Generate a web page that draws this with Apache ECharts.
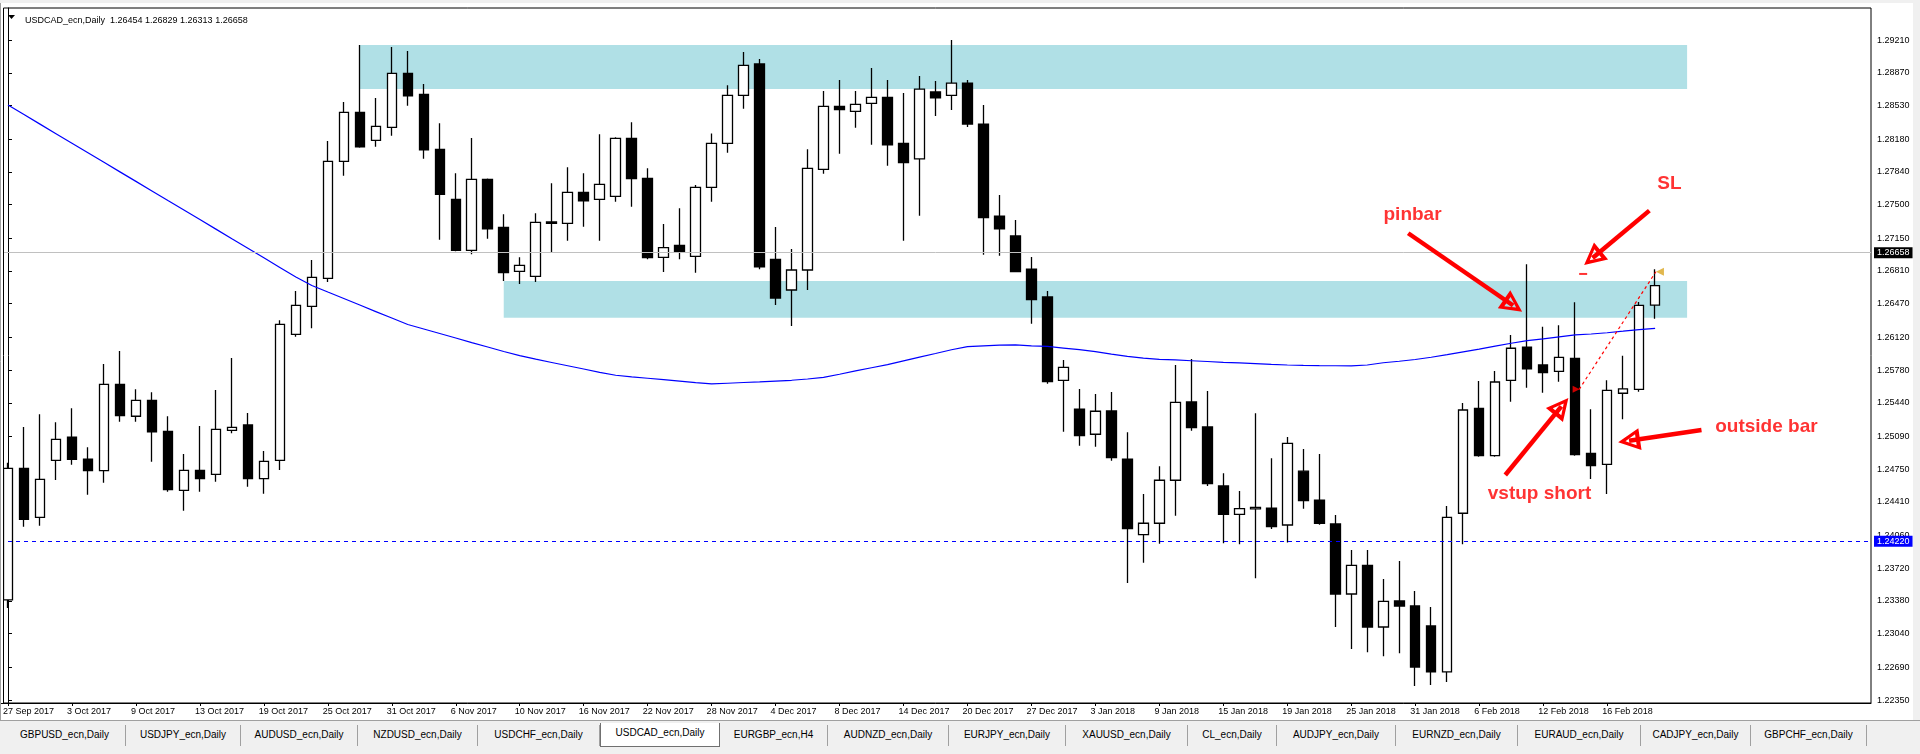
<!DOCTYPE html>
<html>
<head>
<meta charset="utf-8">
<script src="https://cdn.jsdelivr.net/npm/echarts@6/dist/echarts.min.js"></script>
<style>
html,body{margin:0;padding:0;width:1920px;height:754px;overflow:hidden;background:#f0f0f0;font-family:"Liberation Sans",Arial,sans-serif}
#chart{position:absolute;left:0;top:3px;width:1913px;height:717px;background:#fff}
#tabs{position:absolute;left:0;top:720px;width:1920px;height:34px;background:#f0f0f0;border-top:1px solid #a0a0a0}
.tab{position:absolute;top:4px;height:21px;line-height:20px;font-size:10px;color:#000;text-align:center;border-right:1px solid #a0a0a0;font-family:"Liberation Sans",Arial,sans-serif;box-sizing:border-box}
.tab.active{background:#fff;border:1px solid #707070;border-top:none;top:2px;height:24px}
</style>
</head>
<body>
<div id="chart"></div>
<div id="tabs"></div>
<script>
// ---------- data ----------
const dates = [
'2017.09.27','2017.09.28','2017.09.29',
'2017.10.02','2017.10.03','2017.10.04','2017.10.05','2017.10.06','2017.10.09','2017.10.10','2017.10.11','2017.10.12','2017.10.13',
'2017.10.16','2017.10.17','2017.10.18','2017.10.19','2017.10.20','2017.10.23','2017.10.24','2017.10.25','2017.10.26','2017.10.27','2017.10.30','2017.10.31',
'2017.11.01','2017.11.02','2017.11.03','2017.11.06','2017.11.07','2017.11.08','2017.11.09','2017.11.10','2017.11.13','2017.11.14','2017.11.15','2017.11.16','2017.11.17',
'2017.11.20','2017.11.21','2017.11.22','2017.11.23','2017.11.24','2017.11.27','2017.11.28','2017.11.29','2017.11.30',
'2017.12.01','2017.12.04','2017.12.05','2017.12.06','2017.12.07','2017.12.08','2017.12.11','2017.12.12','2017.12.13','2017.12.14','2017.12.15',
'2017.12.18','2017.12.19','2017.12.20','2017.12.21','2017.12.22','2017.12.26','2017.12.27','2017.12.28','2017.12.29',
'2018.01.02','2018.01.03','2018.01.04','2018.01.05','2018.01.08','2018.01.09','2018.01.10','2018.01.11','2018.01.12','2018.01.15','2018.01.16','2018.01.17','2018.01.18','2018.01.19',
'2018.01.22','2018.01.23','2018.01.24','2018.01.25','2018.01.26','2018.01.29','2018.01.30','2018.01.31',
'2018.02.01','2018.02.02','2018.02.05','2018.02.06','2018.02.07','2018.02.08','2018.02.09','2018.02.12','2018.02.13','2018.02.14','2018.02.15','2018.02.16',
'2018.02.19','2018.02.20','2018.02.21'
];
const futureDates = ['2018.02.22','2018.02.23','2018.02.26','2018.02.27','2018.02.28','2018.03.01','2018.03.02','2018.03.05','2018.03.06','2018.03.07','2018.03.08','2018.03.09','2018.03.12'];

const open = [1.23391,1.24759,1.24250,1.24842,1.25084,1.24853,1.24734,1.25632,1.25300,1.25466,1.25143,1.24530,1.24738,1.24697,1.25154,1.25209,1.24651,1.24842,1.26152,1.26443,
1.26734,1.27949,1.28459,1.28168,1.28303,1.28864,1.28646,1.28074,1.27555,1.27025,1.27762,1.27264,1.26806,1.26754,1.27319,1.27305,1.27627,1.27555,1.27586,1.28188,
1.27773,1.26952,1.27077,1.26962,1.27679,1.28137,1.28635,1.28961,1.26931,1.26612,1.26820,1.27866,1.28521,1.28469,1.28552,1.28615,1.28137,1.27974,1.28670,1.28634,
1.28763,1.28337,1.27381,1.27174,1.26830,1.26540,1.25674,1.25373,1.25113,1.25355,1.24853,1.24070,1.24188,1.24635,1.25448,1.25189,1.24575,1.24281,1.24337,1.24344,
1.24170,1.24729,1.24427,1.24181,1.23453,1.23751,1.23110,1.23380,1.23328,1.23120,1.22643,1.24292,1.25383,1.24890,1.25674,1.26017,1.25833,1.25767,1.25902,1.24915,
1.24800,1.25539,1.25580,1.26454];
const high = [1.24817,1.25188,1.25320,1.25237,1.25383,1.24977,1.25843,1.25978,1.25580,1.25549,1.25300,1.24908,1.25199,1.25573,1.25905,1.25334,1.24939,1.26297,1.26602,1.26924,
1.28160,1.28566,1.29158,1.28607,1.29137,1.29096,1.28753,1.28344,1.27825,1.28192,1.27772,1.27399,1.26952,1.27409,1.27721,1.27887,1.27825,1.28230,1.28199,1.28355,
1.27877,1.27298,1.27461,1.27703,1.28240,1.28739,1.29085,1.29013,1.27267,1.27038,1.28074,1.28680,1.28794,1.28680,1.28919,1.28794,1.28659,1.28836,1.28784,1.29210,
1.28795,1.28535,1.27600,1.27340,1.26955,1.26602,1.25885,1.25584,1.25532,1.25552,1.25133,1.24492,1.24780,1.25833,1.25895,1.25563,1.24708,1.24524,1.25331,1.24863,
1.25085,1.24960,1.24908,1.24274,1.23910,1.23910,1.23609,1.23796,1.23484,1.23318,1.24368,1.25438,1.25667,1.25771,1.26145,1.26879,1.26231,1.26246,1.26484,1.25373,
1.25674,1.25930,1.26488,1.26829];
const low = [1.23308,1.24152,1.24163,1.24638,1.24796,1.24485,1.24610,1.25243,1.25243,1.24828,1.24516,1.24319,1.24516,1.24620,1.25123,1.24568,1.24495,1.24741,1.26127,1.26214,
1.26695,1.27800,1.28091,1.28101,1.28215,1.28527,1.27976,1.27135,1.27014,1.26983,1.27145,1.26705,1.26674,1.26695,1.26996,1.27124,1.27270,1.27124,1.27530,1.27478,
1.26931,1.26800,1.26931,1.26792,1.27530,1.28039,1.28496,1.26827,1.26456,1.26238,1.26612,1.27820,1.28028,1.28299,1.28122,1.27904,1.27124,1.27384,1.28420,1.28483,
1.28306,1.26979,1.26969,1.26800,1.26262,1.25639,1.25140,1.24994,1.24984,1.24838,1.23568,1.23778,1.23976,1.24267,1.25150,1.24575,1.23981,1.23970,1.23616,1.24129,
1.23987,1.24340,1.24173,1.23110,1.22882,1.22848,1.22806,1.22837,1.22497,1.22507,1.22539,1.23970,1.24880,1.24880,1.25451,1.25597,1.25545,1.25659,1.24890,1.24648,
1.24492,1.25269,1.25556,1.26313];
const close = [1.24759,1.24229,1.24645,1.25060,1.24853,1.24734,1.25632,1.25306,1.25466,1.25139,1.24537,1.24738,1.24651,1.25164,1.25185,1.24651,1.24832,1.26256,1.26453,1.26744,
1.27949,1.28459,1.28101,1.28313,1.28864,1.28631,1.28070,1.27607,1.27025,1.27762,1.27249,1.26792,1.26869,1.27316,1.27305,1.27627,1.27540,1.27710,1.28188,1.27769,
1.26948,1.27052,1.27010,1.27679,1.28137,1.28635,1.28947,1.26854,1.26529,1.26820,1.27877,1.28521,1.28486,1.28542,1.28615,1.28122,1.27935,1.28700,1.28608,1.28763,
1.28337,1.27364,1.27249,1.26803,1.26512,1.25659,1.25809,1.25098,1.25352,1.24870,1.24132,1.24188,1.24635,1.25445,1.25181,1.24599,1.24281,1.24340,1.24354,1.24153,
1.25019,1.24423,1.24188,1.23453,1.23751,1.23110,1.23377,1.23328,1.22694,1.22643,1.24250,1.25365,1.24890,1.25656,1.26007,1.25794,1.25753,1.25913,1.24901,1.24786,
1.25570,1.25584,1.26453,1.26658];
const ma = [1.28535,1.28436,1.28336,1.28237,1.28138,1.28039,1.27939,1.27840,1.27741,1.27642,1.27542,1.27443,1.27344,1.27245,1.27145,1.27046,1.26947,1.26847,1.26748,1.26659,
1.26591,1.26524,1.26456,1.26388,1.26321,1.26254,1.26207,1.26160,1.26113,1.26066,1.26020,1.25973,1.25931,1.25893,1.25859,1.25825,1.25791,1.25757,1.25726,1.25710,
1.25695,1.25680,1.25665,1.25649,1.25636,1.25643,1.25651,1.25658,1.25666,1.25674,1.25687,1.25704,1.25737,1.25771,1.25804,1.25837,1.25876,1.25914,1.25952,1.25991,
1.26024,1.26032,1.26039,1.26041,1.26032,1.26026,1.26009,1.25992,1.25971,1.25946,1.25923,1.25905,1.25892,1.25885,1.25877,1.25869,1.25860,1.25854,1.25848,1.25840,
1.25833,1.25828,1.25826,1.25825,1.25823,1.25833,1.25856,1.25872,1.25890,1.25913,1.25941,1.25970,1.25997,1.26028,1.26059,1.26087,1.26105,1.26125,1.26145,1.26155,
1.26168,1.26184,1.26201,1.26214];

const priceTicks = [1.29210,1.28870,1.28530,1.28180,1.27840,1.27500,1.27150,1.26810,1.26470,1.26120,1.25780,1.25440,1.25090,1.24750,1.24410,1.24060,1.23720,1.23380,1.23040,1.22690,1.22350];
const yRange = [1.22320, 1.29543];

// zones: [startBar, endBar, top, bottom]
const zones = [[22,105,1.29158,1.28701],[31,105,1.26706,1.26325]];
const bidPrice = 1.26658;
const levelPrice = 1.24220;
const slMark = [98.5, 1.26779];
const tradeLine = [[98.25,1.25580],[103.05,1.26802]];
// arrows: [fromBar, fromPrice, toBar, toPrice]
const arrows = [[87.56,1.27202,94.12,1.26451],[102.64,1.27437,99.09,1.26945],[93.63,1.24690,97.14,1.25402],[105.9,1.25157,101.37,1.25046]];
const notes = [['pinbar',87.83,1.27392],['SL',103.89,1.27719],['outside bar',109.96,1.25194],['vstup short',95.77,1.24492]];
const title = 'USDCAD_ecn,Daily  1.26454 1.26829 1.26313 1.26658';
const tabNames = ['GBPUSD_ecn,Daily','USDJPY_ecn,Daily','AUDUSD_ecn,Daily','NZDUSD_ecn,Daily','USDCHF_ecn,Daily','USDCAD_ecn,Daily','EURGBP_ecn,H4','AUDNZD_ecn,Daily','EURJPY_ecn,Daily','XAUUSD_ecn,Daily','CL_ecn,Daily','AUDJPY_ecn,Daily','EURNZD_ecn,Daily','EURAUD_ecn,Daily','CADJPY_ecn,Daily','GBPCHF_ecn,Daily'];
const tabEdges = [4,126,241,358,478,600,720,828,949,1066,1188,1277,1396,1518,1641,1751,1867];
const activeTab = 5;

// ---------- build ----------
const MONTHS = ['Jan','Feb','Mar','Apr','May','Jun','Jul','Aug','Sep','Oct','Nov','Dec'];
const fmtDate = s => { const p = s.split('.'); return (+p[2]) + ' ' + MONTHS[+p[1]-1] + ' ' + p[0]; };
const allDates = dates.concat(futureDates);
const N = allDates.length;
const candleData = dates.map((d,i) => [open[i], close[i], low[i], high[i]]);
const showIdx = (i) => i % 4 === 0 && i < dates.length;

const chart = echarts.init(document.getElementById('chart'), null, {renderer:'canvas'});
const FONT = '"Liberation Sans", Arial, sans-serif';
const hollowArrow = 'path://M0,0 L11,24 L-11,24 Z M0,8 L-5.5,19.5 L5.5,19.5 Z';
const option = {
  animation: false,
  backgroundColor: '#fff',
  textStyle: {fontFamily: FONT},
  title: {text: title, left: 20, top: 8, textStyle: {fontSize: 9, fontWeight: 'normal', color: '#000', fontFamily: FONT}},
  graphic: [
    {type:'polygon', shape:{points:[[8,12],[15,12],[11.5,16]]}, style:{fill:'#000'}, z:100},
    {type:'rect', shape:{x:0,y:0,width:3.5,height:700}, style:{fill:'#fff'}, z:100},
    {type:'line', shape:{x1:3.5,y1:5,x2:3.5,y2:700}, style:{stroke:'#000', lineWidth:1}, z:100},
    {type:'line', shape:{x1:0.5,y1:0,x2:0.5,y2:717}, style:{stroke:'#a0a0a0', lineWidth:1}, z:100}
  ],
  grid: {left: -2.3, right: 42, top: 5, bottom: 17, show: true, borderColor: '#000', borderWidth: 1, backgroundColor: '#fff'},
  xAxis: [{
    type: 'category', data: allDates, boundaryGap: true,
    axisLine: {show: true, lineStyle: {color: '#000', width: 1}},
    axisTick: {show: true, alignWithLabel: true, interval: (i) => showIdx(i), length: 3, lineStyle: {color: '#000'}},
    axisLabel: {interval: (i) => showIdx(i), showMinLabel: true, hideOverlap: false, formatter: (v) => fmtDate(v), align: 'left', padding: [0,0,0,-5], fontSize: 9, color: '#000', margin: 4, fontFamily: FONT},
    splitLine: {show: false}
  }, {
    type: 'value', min: -0.5, max: N - 0.5, show: false
  }],
  yAxis: {
    type: 'value', position: 'right', min: yRange[0], max: yRange[1], scale: true,
    axisLine: {show: true, lineStyle: {color: '#000', width: 1}},
    axisTick: {show: true, customValues: priceTicks, length: 4, lineStyle: {color: '#000'}},
    axisLabel: {customValues: priceTicks, formatter: (v) => v.toFixed(5), fontSize: 9, color: '#000', margin: 6, fontFamily: FONT},
    splitLine: {show: false}
  },
  series: [
    {
      type: 'line', data: [], z: 1, silent: true,
      markArea: {silent: true, itemStyle: {color: '#b0e0e6', opacity: 1},
        data: zones.map(z => [{xAxis: z[0], yAxis: z[2]}, {xAxis: z[1], yAxis: z[3]}])}
    },
    {
      type: 'line', data: [], z: 2, silent: true,
      markLine: {silent: true, symbol: ['none','none'], animation: false,
        data: [{yAxis: bidPrice, lineStyle: {color: '#c0c0c0', type: 'solid', width: 1},
                label: {show: true, position: 'end', distance: 3, formatter: bidPrice.toFixed(5), backgroundColor: '#000', color: '#fff', padding: [1,3,1,3], fontSize: 9, fontFamily: FONT}}]}
    },
    {
      type: 'candlestick', data: candleData, z: 3, barWidth: 10, clip: true,
      itemStyle: {color: '#fff', color0: '#000', borderColor: '#000', borderColor0: '#000', borderWidth: 1.3}
    },
    {
      type: 'line', data: ma, z: 4, symbol: 'none', smooth: false,
      lineStyle: {color: '#0000ff', width: 1.2}
    },
    {
      type: 'line', data: [], z: 5, silent: true,
      markLine: {silent: true, symbol: ['none','none'], animation: false,
        data: [{yAxis: levelPrice, lineStyle: {color: '#0000ff', type: [4,4], width: 1.2},
                label: {show: true, position: 'end', distance: 3, formatter: levelPrice.toFixed(5), backgroundColor: '#0000ff', color: '#fff', padding: [1,3,1,3], fontSize: 9, fontFamily: FONT}}]}
    },
    {
      type: 'line', xAxisIndex: 1, data: tradeLine, z: 6, symbol: 'none',
      lineStyle: {color: '#ff0000', width: 1.2, type: [3,3]}
    },
    {
      type: 'scatter', xAxisIndex: 1, z: 7, data: [slMark], symbol: 'rect', symbolSize: [8,2], itemStyle: {color: '#ff0000'}
    },
    {
      type: 'scatter', xAxisIndex: 1, z: 7, data: [tradeLine[1]], symbol: 'triangle', symbolRotate: 90, symbolSize: 8, symbolOffset: [4,0], itemStyle: {color: '#daa520'}
    },
    {
      type: 'scatter', xAxisIndex: 1, z: 7, data: [tradeLine[0]], symbol: 'triangle', symbolRotate: -90, symbolSize: 7, symbolOffset: [-3,0], itemStyle: {color: '#ff0000'}
    },
    {
      type: 'lines', coordinateSystem: 'cartesian2d', xAxisIndex: 1, z: 8,
      symbol: ['none', hollowArrow], symbolSize: 22,
      lineStyle: {color: '#ff0000', width: 4.5, opacity: 1, curveness: 0},
      data: arrows.map(a => ({coords: [[a[0],a[1]],[a[2],a[3]]]}))
    },
    {
      type: 'scatter', xAxisIndex: 1, z: 9, symbolSize: 0,
      data: notes.map(n => ({name: n[0], value: [n[1], n[2]]})),
      label: {show: true, position: 'inside', formatter: (p) => p.name, color: '#ff0000', fontSize: 19, fontWeight: 'bold', fontFamily: FONT}
    }
  ]
};
chart.setOption(option);

// tabs
const tabs = document.getElementById('tabs');
tabNames.forEach((t,i) => {
  const d = document.createElement('div');
  d.className = 'tab' + (i === activeTab ? ' active' : '');
  d.style.left = tabEdges[i] + 'px';
  d.style.width = (tabEdges[i+1] - tabEdges[i]) + 'px';
  d.textContent = t;
  tabs.appendChild(d);
});
</script>
</body>
</html>
